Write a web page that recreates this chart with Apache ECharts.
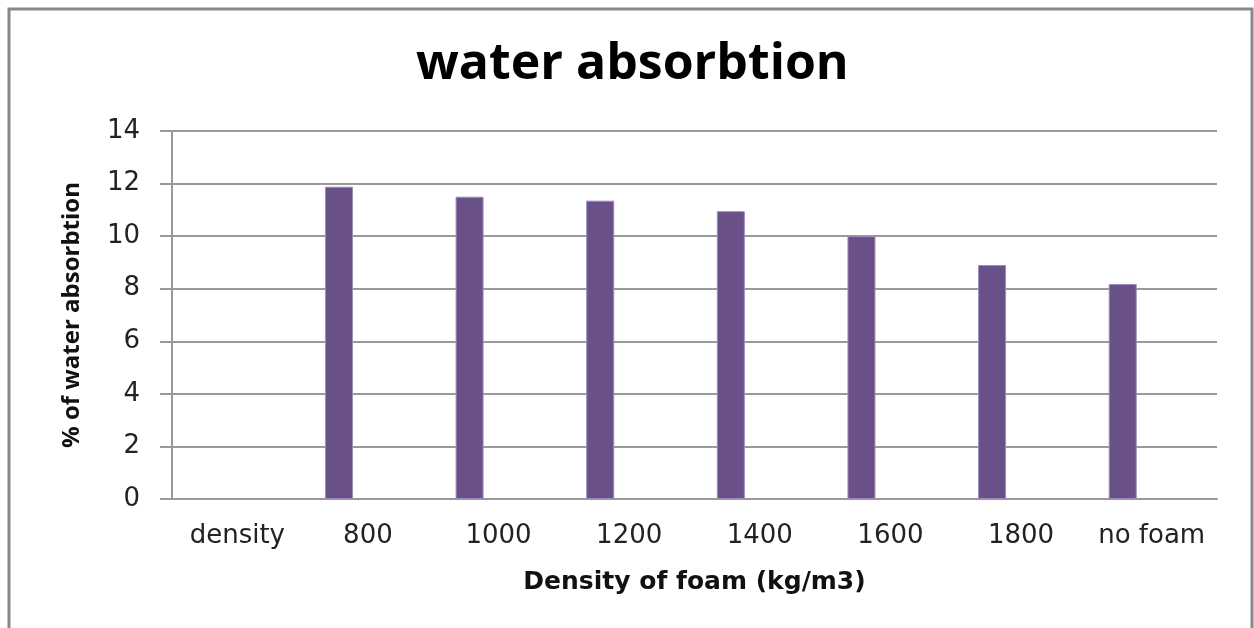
<!DOCTYPE html>
<html>
<head>
<meta charset="utf-8">
<script src="https://cdn.jsdelivr.net/npm/echarts@6/dist/echarts.min.js"></script>
<style>
  html, body { margin: 0; padding: 0; background: #fff; }
  #chart { width: 1254px; height: 628px; }
</style>
</head>
<body>
<div id="chart"></div>
<script>
// categories along the x axis
const categories = ["density", "800", "1000", "1200", "1400", "1600", "1800", "no foam"];
// % of water absorption per density (first one empty)
const absorption = [null, 11.88, 11.5, 11.35, 10.95, 10.0, 8.9, 8.18];
// empty second series, Excel kept a slot for it
const placeholder = [null, null, null, null, null, null, null, null];

const TITLE_FONT = "'Open Sans', sans-serif";
const WIDE_FONT = "'DejaVu Sans', sans-serif";

const chart = echarts.init(document.getElementById("chart"));
chart.setOption({
  animation: false,
  title: {
    text: "water absorbtion",
    left: 411,
    top: 35,
    textStyle: { fontFamily: TITLE_FONT, fontSize: 50, fontWeight: "bold", color: "#000" }
  },
  graphic: [{
    type: "rect",
    shape: { x: 9, y: 9, width: 1243, height: 660 },
    style: { fill: "none", stroke: "#888", lineWidth: 3 }
  }],
  grid: { left: 172, right: 37, top: 131, bottom: 129 },
  xAxis: {
    type: "category",
    data: categories,
    name: "Density of foam (kg/m3)",
    nameLocation: "middle",
    nameGap: 71,
    nameTextStyle: { fontFamily: WIDE_FONT, fontSize: 25, fontWeight: "bold", color: "#111" },
    axisLine: { lineStyle: { color: "#999", width: 2 } },
    axisTick: { show: false },
    axisLabel: { fontFamily: WIDE_FONT, fontSize: 26, color: "#222", margin: 24, interval: 0 }
  },
  yAxis: {
    type: "value",
    min: 0,
    max: 14,
    interval: 2,
    name: "% of water absorbtion",
    nameLocation: "middle",
    nameGap: 88,
    nameRotate: 90,
    nameTextStyle: { fontFamily: TITLE_FONT, fontSize: 24, fontWeight: "bold", color: "#111" },
    axisLine: { show: true, lineStyle: { color: "#999", width: 2 } },
    axisTick: { show: true, length: 12, lineStyle: { color: "#999", width: 2 } },
    splitLine: { lineStyle: { color: "#999", width: 2 } },
    axisLabel: { fontFamily: WIDE_FONT, fontSize: 26, color: "#222", margin: 32 }
  },
  series: [
    {
      type: "bar",
      data: absorption,
      barWidth: 28,
      barGap: "107%",
      itemStyle: { color: "#695088", borderColor: "#9c8cb8", borderWidth: 1 }
    },
    {
      type: "bar",
      data: placeholder,
      barWidth: 28,
      itemStyle: { color: "#c0504d" }
    }
  ]
});
</script>
</body>
</html>
